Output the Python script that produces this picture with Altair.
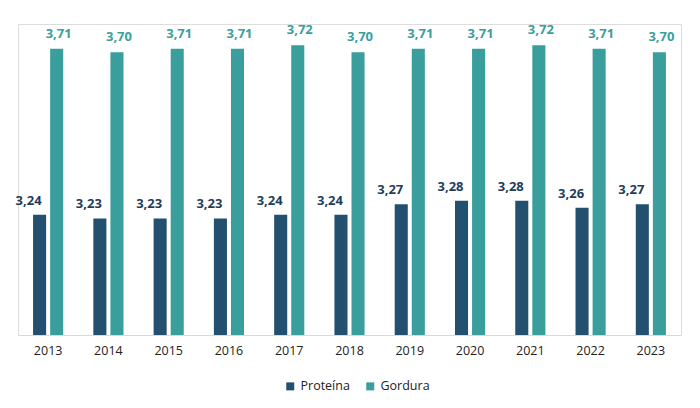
import altair as alt
import pandas as pd

years = ["2013", "2014", "2015", "2016", "2017", "2018", "2019", "2020", "2021", "2022", "2023"]
proteina = [3.24, 3.23, 3.23, 3.23, 3.24, 3.24, 3.27, 3.28, 3.28, 3.26, 3.27]
gordura = [3.71, 3.70, 3.71, 3.71, 3.72, 3.70, 3.71, 3.71, 3.72, 3.71, 3.70]
series = ["Proteína", "Gordura"]
colors = ["#22506e", "#3a9e9d"]
label_colors = ["#1f3d5a", "#3a9e9d"]

rows = []
for i, y in enumerate(years):
    rows.append({"ano": y, "serie": series[0], "valor": proteina[i]})
    rows.append({"ano": y, "serie": series[1], "valor": gordura[i]})
df = pd.DataFrame(rows)

FONT = "Open Sans"

base = alt.Chart(df).encode(
    x=alt.X("ano:N", sort=years, title=None,
            scale=alt.Scale(paddingInner=0.5, paddingOuter=0.25),
            axis=alt.Axis(labelAngle=0, ticks=False, labelFontSize=12.5, labelColor="#222222",
                          labelFont=FONT, labelPadding=9, domainColor="#d9d9d9", domainWidth=1.2)),
    xOffset=alt.XOffset("serie:N", sort=series, scale=alt.Scale(paddingInner=0.235, paddingOuter=0)),
    y=alt.Y("valor:Q", scale=alt.Scale(domain=[2.9, 3.78], zero=False, nice=False), axis=None),
)

bars = base.mark_bar(clip=True).encode(
    color=alt.Color("serie:N", sort=series, scale=alt.Scale(domain=series, range=colors),
                    legend=alt.Legend(title=None, orient="none", legendX=266, legendY=356,
                                      direction="horizontal", symbolType="square", symbolSize=64,
                                      symbolStrokeWidth=0, labelFontSize=12.5, labelFont=FONT,
                                      labelColor="#222222", columnPadding=14, labelOffset=4))
)

lab = base.transform_calculate(
    txt="replace(format(datum.valor, '.2f'), '.', ',')"
)

text_p = lab.transform_filter(alt.datum.serie == series[0]).mark_text(
    font=FONT, fontSize=13, fontWeight="bold", color=label_colors[0], dx=-11, dy=-10,
    baseline="alphabetic"
).encode(text="txt:N")

text_g = lab.transform_filter(alt.datum.serie == series[1]).mark_text(
    font=FONT, fontSize=13, fontWeight="bold", color=label_colors[1], dx=2, dy=-11,
    baseline="alphabetic"
).encode(text="txt:N")

chart = alt.layer(bars, text_p, text_g).properties(
    width=663, height=311,
    autosize=alt.AutoSizeParams(type="none"),
    padding={"left": 10, "top": 16, "right": 10, "bottom": 60},
).configure_view(stroke=None).configure(background="white")

chart.save("out.html", embed_options={"renderer": "svg", "actions": False})
